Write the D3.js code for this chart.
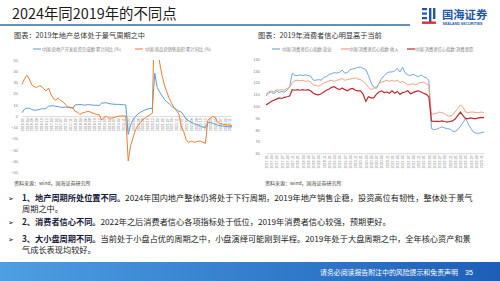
<!DOCTYPE html>
<meta charset="utf-8">
<style>
  body { margin: 0; background: #fff; }
  svg { display: block; font-family: "Noto Sans CJK SC", "Noto Sans", sans-serif; }
  .ax text { fill: #808080; font-family: "Liberation Sans", "DejaVu Sans", sans-serif; }
  .ax .domain { stroke: #d9d9d9; }
</style>
<svg width="500" height="281"></svg>
<script src="https://cdn.jsdelivr.net/npm/d3@7/dist/d3.min.js"></script>
<script>

// left chart: cumulative yoy (%), Feb 2016 - Dec 2023 (no January prints)
var leftYears = [2016, 2017, 2018, 2019, 2020, 2021, 2022, 2023];
var leftMonths = [];
leftYears.forEach(function(y) {
    for (var m = 2; m <= 12; m++) leftMonths.push(y + "-" + (m < 10 ? "0" + m : m));
});
var invest = [3.0, 6.2, 7.2, 7.0, 6.1, 5.3, 5.4, 5.8, 6.6, 6.5, 6.9,
    8.9, 9.1, 9.3, 8.8, 8.5, 7.9, 7.9, 8.1, 7.8, 7.5, 7.0,
    9.9, 10.4, 10.3, 10.2, 9.7, 10.2, 10.1, 9.9, 9.7, 9.7, 9.5,
    11.6, 11.8, 11.9, 11.2, 10.9, 10.6, 10.5, 10.5, 10.3, 10.2, 9.9,
    -16.3, -7.7, -3.3, -0.3, 1.9, 3.4, 4.6, 5.6, 6.3, 6.8, 7.0,
    38.3, 25.6, 21.6, 18.3, 15.0, 12.7, 10.9, 8.8, 7.2, 6.0, 4.4,
    3.7, 0.7, -2.7, -4.0, -5.4, -6.4, -7.4, -8.0, -8.8, -9.8, -10.0,
    -5.7, -5.8, -6.2, -7.2, -7.9, -8.5, -8.8, -9.1, -9.3, -9.4, -9.6];
var salesArea = [28.2, 33.1, 36.5, 33.2, 27.9, 26.4, 25.5, 26.9, 26.8, 24.3, 22.5,
    25.1, 19.5, 15.7, 14.3, 16.1, 14.0, 12.7, 10.3, 8.2, 7.9, 7.7,
    4.1, 3.6, 1.3, 2.9, 3.3, 4.2, 4.0, 2.9, 2.2, 1.4, 1.3,
    -3.6, -0.9, -0.3, -1.6, -1.8, -1.3, -0.6, -0.1, 0.1, 0.2, -0.1,
    -39.9, -26.3, -19.3, -12.3, -8.4, -5.8, -3.3, -1.8, 0.0, 1.3, 2.6,
    104.9, 63.8, 48.1, 36.3, 27.7, 21.5, 15.9, 11.3, 7.8, 4.8, 1.9,
    -9.6, -13.8, -20.9, -23.6, -22.2, -23.1, -23.0, -22.2, -22.3, -23.3, -24.3,
    -3.6, -1.8, -0.4, -0.9, -5.3, -6.5, -7.1, -7.5, -7.8, -8.0, -8.5];
var leftTicks = [-50, -40, -30, -20, -10, 0, 10, 20, 30, 40, 50];
var leftNames = ["中国:房地产开发投资完成额:累计同比 (%)", "中国:商品房销售面积:累计同比 (%)"];

// right chart: consumer confidence sub-indices, Jan 2017 - Dec 2023
var rightYears = [2017, 2018, 2019, 2020, 2021, 2022, 2023];
var rightMonths = [];
rightYears.forEach(function(y) {
    for (var m = 1; m <= 12; m++) rightMonths.push(y + "-" + (m < 10 ? "0" + m : m));
});
var ccJobs = [108.5, 111.5, 112, 110.5, 113, 111.5, 112.5, 112, 113.5, 116.5, 128, 126,
    126, 126.5, 126, 126.5, 126, 125.5, 122, 122, 122.5, 122, 124.5, 125,
    127, 127.5, 128.5, 128, 128.7, 130.6, 128, 128.5, 131, 131.5, 132, 133,
    133, 132, 131, 126, 120, 116, 115, 119, 123.6, 126, 128, 129,
    129, 130, 132, 129, 133, 128, 126.5, 126, 127, 126, 125, 126.4,
    125, 124, 122, 81, 80, 80.5, 81.5, 82.5, 81.5, 81, 80.5, 79,
    78.5, 80, 83, 86, 89.6, 85, 81, 78, 77, 77, 77.5, 78];
var ccIncome = [110, 112, 113, 112, 114, 113.5, 114, 113.5, 115, 116, 120, 121.5,
    122, 121.5, 122, 121, 121.5, 120.5, 118, 117.5, 117, 118, 119.5, 120.5,
    121.5, 122, 121, 122, 122.5, 123.5, 122, 122.5, 123, 123.5, 124, 123,
    122.5, 121, 119, 116, 114, 115, 116.5, 119, 120.5, 121, 122, 121,
    122, 121, 122, 120, 121, 119.5, 118, 118.5, 119, 118, 119.5, 120,
    120.5, 119, 118, 93, 93.5, 94, 95, 94.5, 93.5, 92, 91.5, 92.5,
    95, 98, 101, 99, 95, 94.5, 95, 95, 94.5, 94.5, 95, 94.5];
var ccSpend = [101, 102.5, 104, 105, 106, 107, 106.5, 107.5, 108, 108.6, 114, 113.5,
    114, 113.5, 114, 113.5, 114, 113, 111, 110, 109.5, 110.5, 112, 113.5,
    114.5, 116, 116.5, 115, 114, 115.5, 114, 113, 114.5, 115, 113.5, 113,
    113, 110, 104, 108, 107, 107, 110, 112, 113, 111.5, 112, 111,
    113, 111, 112.5, 110, 111.5, 112, 113, 110.5, 111.5, 112.5, 113, 112,
    111, 110, 108, 87.5, 87, 87, 87, 87.5, 87, 86.5, 87, 87.5,
    89, 92, 95, 92, 89.5, 89.5, 90, 89.5, 89.5, 90, 90.5, 90];
var rightTicks = [60, 70, 80, 90, 100, 110, 120, 130, 140];
var rightNames = ["中国:消费者信心指数:就业", "中国:消费者信心指数:收入", "中国:消费者信心指数:消费意愿"];

var svg = d3.select("svg");

// ---------- header ----------
svg.append("text").attr("x", 12).attr("y", 18.5)
    .style("font-size", "14.4px").style("fill", "#1a1a1a")
    .text("2024年同2019年的不同点");
svg.append("line").attr("x1", 0).attr("x2", 410).attr("y1", 25).attr("y2", 25)
    .attr("stroke", "#2f6aae").attr("stroke-width", 1.5);

// logo
var logo = svg.append("g");
logo.append("rect").attr("x", 422).attr("y", 8).attr("width", 5).attr("height", 2.2).attr("fill", "#1f57a6");
logo.append("rect").attr("x", 422).attr("y", 12.5).attr("width", 5).attr("height", 2.2).attr("fill", "#1f57a6");
logo.append("rect").attr("x", 422).attr("y", 17).attr("width", 5).attr("height", 2.2).attr("fill", "#1f57a6");
logo.append("rect").attr("x", 429).attr("y", 8).attr("width", 2.4).attr("height", 15).attr("fill", "#1f57a6");
logo.append("rect").attr("x", 433).attr("y", 8).attr("width", 2.4).attr("height", 11).attr("fill", "#1f57a6");
logo.append("rect").attr("x", 422).attr("y", 21.5).attr("width", 14).attr("height", 2.4).attr("fill", "#e03030");
logo.append("text").attr("x", 442).attr("y", 18.5)
    .style("font-size", "11.3px").style("font-weight", "bold").style("fill", "#1f57a6")
    .text("国海证券");
logo.append("text").attr("x", 442.5).attr("y", 25.3)
    .style("font-size", "3.6px").style("font-weight", "bold").style("fill", "#1f57a6")
    .style("font-family", "Liberation Sans, sans-serif")
    .text("SEALAND SECURITIES");

// chart captions
svg.append("text").attr("x", 14).attr("y", 37.5).style("font-size", "7.2px").style("fill", "#333")
    .text("图表：2019年地产总体处于景气周期之中");
svg.append("text").attr("x", 258).attr("y", 37.5).style("font-size", "7.2px").style("fill", "#333")
    .text("图表：2019年消费者信心明显高于当前");

// ---------- left chart ----------
var xL = d3.scalePoint().domain(leftMonths).range([22, 232]);
var yL = d3.scaleLinear().domain([-50, 50]).range([172.3, 60]);

svg.append("clipPath").attr("id", "clipL").append("rect")
    .attr("x", 18).attr("y", 60).attr("width", 218).attr("height", 112.3);

svg.append("g").attr("class", "ax")
    .attr("transform", "translate(20,0)")
    .call(d3.axisLeft(yL).tickValues(leftTicks).tickSize(0).tickPadding(2))
    .call(function(g) { g.select(".domain").remove(); })
    .selectAll("text").style("font-size", "4px");

var gxL = svg.append("g").attr("class", "ax")
    .attr("transform", "translate(0," + yL(0) + ")")
    .call(d3.axisBottom(xL).tickValues(leftMonths.filter(function(d, i) { return i % 2 === 0; })).tickSize(0));
gxL.selectAll("text").style("font-size", "3.6px")
    .attr("transform", "rotate(-90)").attr("x", -2).attr("y", 0).attr("dy", "0.35em")
    .style("text-anchor", "end");

var leftColors = ["#5b9bd5", "#ed7d31"];
var lineL = d3.line().x(function(d, i) { return xL(leftMonths[i]); }).y(function(d) { return yL(d); });
[invest, salesArea].forEach(function(s, k) {
    svg.append("path").datum(s).attr("d", lineL).attr("clip-path", "url(#clipL)")
        .attr("fill", "none").attr("stroke", leftColors[k]).attr("stroke-width", 1);
});

var legL = [[33, 42], [135, 145]];
leftNames.forEach(function(n, k) {
    svg.append("line").attr("x1", legL[k][0]).attr("x2", legL[k][0] + 8).attr("y1", 49).attr("y2", 49)
        .attr("stroke", leftColors[k]).attr("stroke-width", 1);
    svg.append("text").attr("x", legL[k][1]).attr("y", 50.5).style("font-size", "4.3px").style("fill", "#7f7f7f").text(n);
});

svg.append("text").attr("x", 14).attr("y", 185).style("font-size", "5px").style("fill", "#444")
    .text("资料来源：wind，国海证券研究所");

// ---------- right chart ----------
var xR = d3.scalePoint().domain(rightMonths).range([266, 484]);
var yR = d3.scaleLinear().domain([60, 140]).range([153.3, 59]);

svg.append("g").attr("class", "ax")
    .attr("transform", "translate(262,0)")
    .call(d3.axisLeft(yR).tickValues(rightTicks).tickSize(0).tickPadding(2))
    .call(function(g) { g.select(".domain").remove(); })
    .selectAll("text").style("font-size", "4px");

var gxR = svg.append("g").attr("class", "ax")
    .attr("transform", "translate(0," + yR(60) + ")")
    .call(d3.axisBottom(xR).tickValues(rightMonths.filter(function(d, i) { return i % 2 === 0; })).tickSize(0));
gxR.selectAll("text").style("font-size", "3.6px")
    .attr("transform", "rotate(-90)").attr("x", -2).attr("y", 0).attr("dy", "0.35em")
    .style("text-anchor", "end");

var rightColors = ["#74a7d9", "#f4a07e", "#c0262e"];
var lineR = d3.line().x(function(d, i) { return xR(rightMonths[i]); }).y(function(d) { return yR(d); });
[ccJobs, ccIncome, ccSpend].forEach(function(s, k) {
    svg.append("path").datum(s).attr("d", lineR)
        .attr("fill", "none").attr("stroke", rightColors[k]).attr("stroke-width", k === 2 ? 1.2 : 1);
});

var legR = [[272, 282], [341, 349], [407, 415]];
rightNames.forEach(function(n, k) {
    svg.append("line").attr("x1", legR[k][0]).attr("x2", legR[k][0] + 8).attr("y1", 49).attr("y2", 49)
        .attr("stroke", rightColors[k]).attr("stroke-width", 1.2);
    svg.append("text").attr("x", legR[k][1]).attr("y", 50.5).style("font-size", "4.3px").style("fill", "#7f7f7f").text(n);
});

svg.append("text").attr("x", 265).attr("y", 185).style("font-size", "5px").style("fill", "#444")
    .text("资料来源：wind，国海证券研究所");

// ---------- bullets ----------
var bullets = [
    { y: 201, bold: "1、地产周期所处位置不同。", rest: "2024年国内地产整体仍将处于下行周期，2019年地产销售企稳，投资高位有韧性，整体处于景气", cont: "周期之中。" },
    { y: 225, bold: "2、消费者信心不同。", rest: "2022年之后消费者信心各项指标处于低位，2019年消费者信心较强，预期更好。", cont: null },
    { y: 242, bold: "3、大小盘周期不同。", rest: "当前处于小盘占优的周期之中，小盘演绎可能刚到半程。2019年处于大盘周期之中，全年核心资产和景", cont: "气成长表现均较好。" }
];
bullets.forEach(function(b) {
    svg.append("text").attr("x", 8).attr("y", b.y).style("font-size", "7px").style("fill", "#1a1a1a")
        .style("font-family", "DejaVu Sans, sans-serif").text("➢");
    var t = svg.append("text").attr("x", 22).attr("y", b.y).style("font-size", "8.2px").style("fill", "#222");
    t.append("tspan").style("font-weight", "bold").style("fill", "#1a1a3a").text(b.bold);
    t.append("tspan").text(b.rest);
    if (b.cont) {
        svg.append("text").attr("x", 22).attr("y", b.y + 11).style("font-size", "8.2px").style("fill", "#222").text(b.cont);
    }
});

// ---------- footer ----------
var grad = svg.append("defs").append("linearGradient").attr("id", "foot");
grad.append("stop").attr("offset", "0%").attr("stop-color", "#4d9ee2");
grad.append("stop").attr("offset", "100%").attr("stop-color", "#1d5fb8");
svg.append("rect").attr("x", 0).attr("y", 262).attr("width", 500).attr("height", 19).attr("fill", "url(#foot)");
svg.append("text").attr("x", 320).attr("y", 275).style("font-size", "6.9px").style("fill", "#fff")
    .text("请务必阅读报告附注中的风险提示和免责声明");
svg.append("text").attr("x", 465).attr("y", 275).style("font-size", "7px").style("fill", "#fff")
    .style("font-family", "Liberation Sans, sans-serif").text("35");

</script>
